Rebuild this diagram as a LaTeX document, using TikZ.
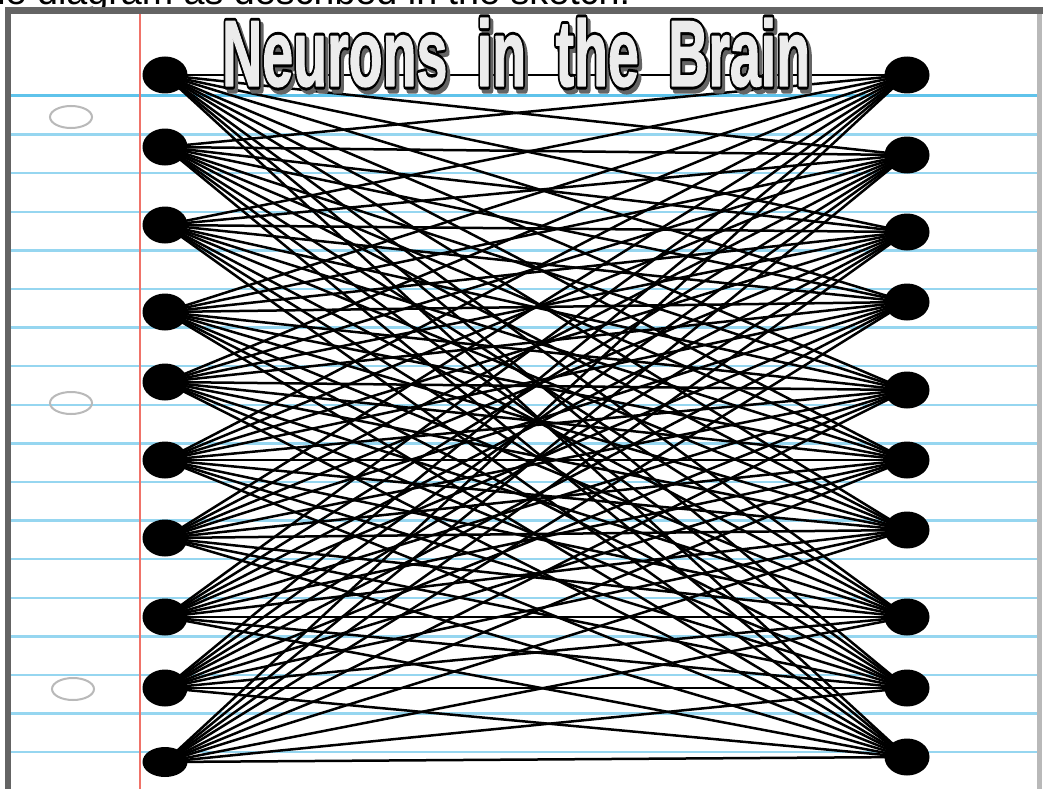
\documentclass[tikz,border=0pt]{standalone}
\usepackage{fontspec}
\newfontfamily\titlefont{Liberation Sans}
\usetikzlibrary{shapes.geometric}
\definecolor{RuleClr}{RGB}{150,214,240}
\definecolor{TopRuleClr}{RGB}{95,195,235}
\definecolor{MarginClr}{RGB}{240,115,105}
\definecolor{FrameClr}{RGB}{100,100,100}
\definecolor{HoleClr}{RGB}{185,185,185}
\definecolor{LetterClr}{RGB}{236,236,236}
% stroked letters, stroke width in pt
\newcommand{\RimOn}[1]{\special{pdf:literal direct 2 Tr #1 w 1 j}}
\newcommand{\RimOff}{\special{pdf:literal direct 0 Tr}}
\newcommand{\TitleWords}{\titlefont\bfseries\fontsize{64}{64}\selectfont
  Neurons\hspace{0.53em}in\hspace{0.53em}the\hspace{0.53em}Brain}
\newcommand{\TitleBox}[1]{\resizebox{588pt}{68pt}{\RimOn{#1}\TitleWords\RimOff}}
\pgfdeclarelayer{paper}
\pgfdeclarelayer{wires}
\pgfsetlayers{paper,wires,main}

\begin{document}
\begin{tikzpicture}[x=1pt,y=-1pt,
  neuron/.style={ellipse,fill=black,minimum width=45pt,minimum height=37pt,inner sep=0pt},
  synapse/.style={line width=2.5pt,black},
  rule/.style={line width=2.5pt,RuleClr},
  hole/.style={ellipse,draw=HoleClr,line width=2pt,minimum width=42pt,minimum height=22pt,inner sep=0pt},
  banner/.style={anchor=base west,inner sep=0pt}]
\useasboundingbox (0,0) rectangle (1043,789);

% notebook page
\begin{pgfonlayer}{paper}
\fill[white] (0,0) rectangle (1043,789);
\node[anchor=base west,inner sep=0pt,font=\titlefont\fontsize{37.7}{40}\selectfont]
  (lead) at (-26,5) {the diagram as described in the sketch:};
\foreach \k in {1,...,17}
  \draw[rule] (11,{96+38.6*\k}) -- (1037,{96+38.6*\k});
\draw[rule,TopRuleClr,line width=3pt] (11,96) -- (1037,96);
\draw[MarginClr,line width=2pt] (140,14) -- (140,789);
\fill[white] (0,7) rectangle (5,789);
\fill[FrameClr] (5,7) rectangle (1043,14);
\fill[FrameClr] (5,7) rectangle (11,789);
\fill[gray!55] (1037,14) rectangle (1042,789);
\end{pgfonlayer}

\node[hole] (hole1) at (71,117) {};
\node[hole] (hole2) at (71,403) {};
\node[hole] (hole3) at (73,689) {};

% input and output neurons
\foreach \n/\y in {1/75,2/147,3/225,4/312,5/382,6/460,7/538,8/617,9/688}
  \node[neuron] (L\n) at (165,\y) {};
\node[neuron,minimum height=30pt] (L10) at (165,762) {};
\foreach \n/\y in {1/75,2/155,3/232,4/302,5/390,6/460,7/530,8/617,9/688,10/757}
  \node[neuron] (R\n) at (907,\y) {};

\begin{pgfonlayer}{wires}
\foreach \i in {1,...,10}
  \foreach \j in {1,...,10}
    \draw[synapse] (L\i.center) -- (R\j.center);
\end{pgfonlayer}

% title: shadow, black rim, light letters
\node[banner,text=FrameClr,shift={(3,4)}] (shadow) at (222,86) {\TitleBox{5}};
\node[banner,text=black] (rim) at (222,86) {\TitleBox{5}};
\node[banner,text=LetterClr] (title) at (222,86) {\TitleBox{1}};

\end{tikzpicture}
\end{document}
